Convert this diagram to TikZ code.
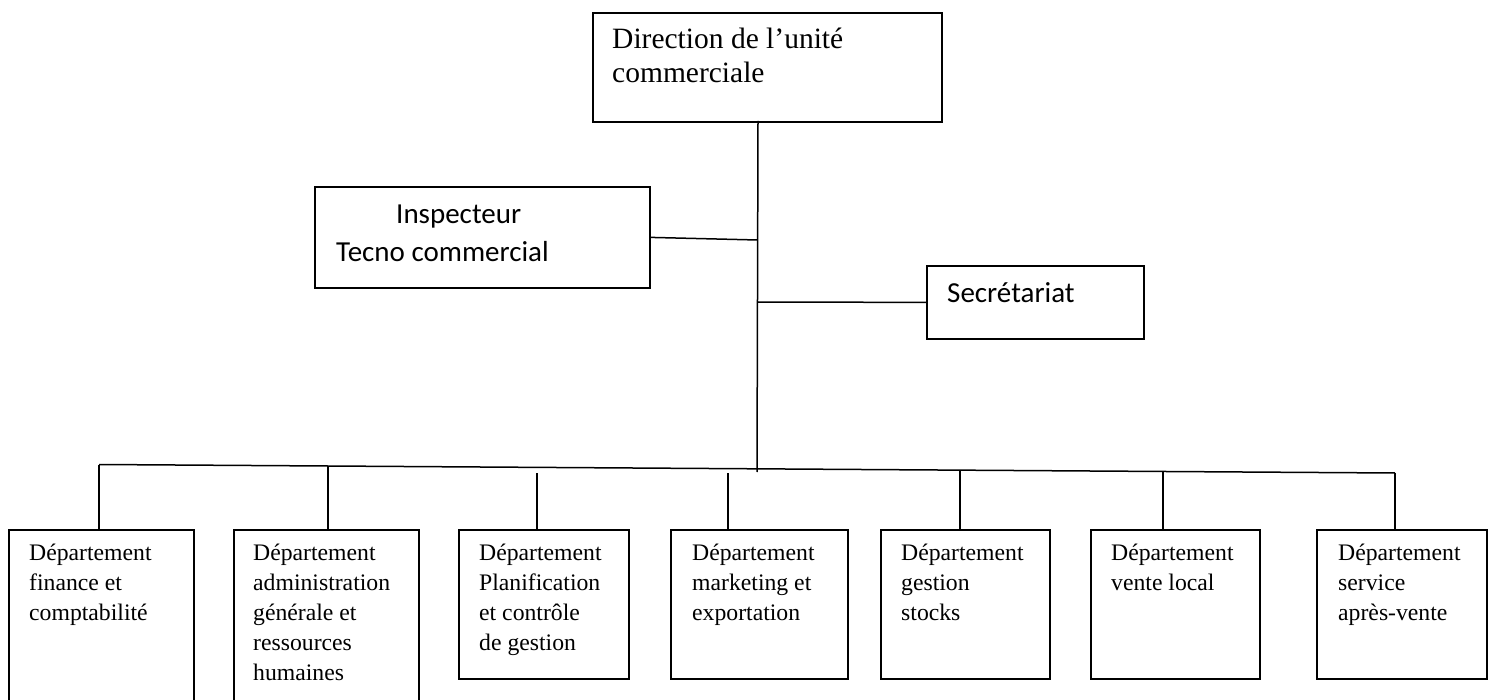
\documentclass[tikz,border=0pt]{standalone}
\usepackage{fontspec}
\setmainfont{Liberation Serif}
\newfontfamily\calib{Carlito}
\newcommand\ltab[1]{\begin{tabular}[t]{@{}l@{}}#1\end{tabular}}
\tikzset{
  box/.style={draw, line width=1.8pt, rectangle, inner sep=0pt, anchor=north west},
  link/.style={line width=1.5pt},
  deptext/.style={anchor=base west, inner sep=0pt, font=\fontsize{23.7}{30}\selectfont},
  toptext/.style={anchor=base west, inner sep=0pt, font=\fontsize{29.5}{34}\selectfont},
  caltext/.style={anchor=base west, inner sep=0pt, font=\calib\fontsize{29}{35}\selectfont},
}
\begin{document}
\begin{tikzpicture}[x=1pt, y=-1pt]
  \path[use as bounding box, clip] (0,0) rectangle (1494,700);
  \fill[white] (0,0) rectangle (1494,700);

  % boxes
  \node[box, minimum width=349pt, minimum height=109pt] (dir) at (592,12) {};
  \node[box, minimum width=335pt, minimum height=101pt] (insp) at (314,186) {};
  \node[box, minimum width=217pt, minimum height=73pt] (sec) at (926,265) {};
  \node[box, minimum width=185pt, minimum height=200pt] (d1) at (8,529) {};
  \node[box, minimum width=185pt, minimum height=200pt] (d2) at (233,529) {};
  \node[box, minimum width=170pt, minimum height=149pt] (d3) at (458,529) {};
  \node[box, minimum width=177pt, minimum height=149pt] (d4) at (670,529) {};
  \node[box, minimum width=169pt, minimum height=149pt] (d5) at (880,529) {};
  \node[box, minimum width=169pt, minimum height=149pt] (d6) at (1090,529) {};
  \node[box, minimum width=170pt, minimum height=149pt] (d7) at (1316,529) {};

  % texts
  \node[toptext] (tdir) at (612,49) {\ltab{Direction de l’unité\\commerciale}};
  \node[caltext] (tinsp1) at (396,224) {Inspecteur};
  \node[caltext] (tinsp2) at (336,262) {Tecno commercial};
  \node[caltext] (tsec) at (947,303) {Secrétariat};
  \node[deptext] (t1) at (29,560) {\ltab{Département\\finance et\\comptabilité}};
  \node[deptext] (t2) at (253,560) {\ltab{Département\\administration\\générale et\\ressources\\humaines}};
  \node[deptext] (t3) at (479,560) {\ltab{Département\\Planification\\et contrôle\\de gestion}};
  \node[deptext] (t4) at (692,560) {\ltab{Département\\marketing et\\exportation}};
  \node[deptext] (t5) at (901,560) {\ltab{Département\\gestion\\stocks}};
  \node[deptext] (t6) at (1111,560) {\ltab{Département\\vente local}};
  \node[deptext] (t7) at (1338,560) {\ltab{Département\\service\\après-vente}};

  % junction points
  \coordinate (ttop) at (758,121);
  \coordinate (tbot) at (757,472);
  \coordinate (jinsp) at (757.5,240);
  \coordinate (jsec) at (757.5,302);
  \coordinate (b1) at (99,464.5);
  \coordinate (b2) at (328,466);
  \coordinate (b3) at (537,473);
  \coordinate (b4) at (728,473);
  \coordinate (b5) at (960,471);
  \coordinate (b6) at (1163,471.5);
  \coordinate (b7) at (1395,473);

  % connectors
  \draw[link] (ttop) -- (tbot);
  \draw[link] (insp.east) -- (jinsp);
  \draw[link] (jsec) -- (sec.west);
  \draw[link] (b1) -- (b7);
  \foreach \i in {1,...,7}{
    \draw[link] (b\i) -- (b\i |- d\i.north);
  }
\end{tikzpicture}
\end{document}
